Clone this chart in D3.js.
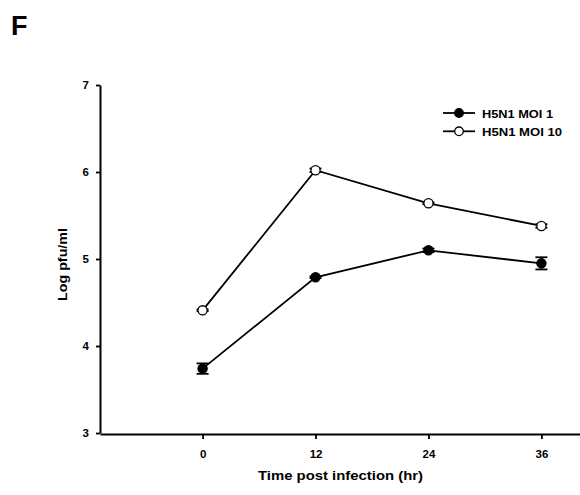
<!DOCTYPE html>
<html>
<head>
<meta charset="utf-8">
<script src="https://cdn.jsdelivr.net/npm/d3@7"></script>
<style>
  html, body { margin: 0; padding: 0; background: #fff; }
  svg { display: block; font-family: "Liberation Sans", Arial, sans-serif; }
</style>
</head>
<body>
<svg id="chart" width="580" height="495"></svg>
<script>
// ---- data ----
const timepoints = [0, 12, 24, 36];
const moi1Values = [3.74, 4.79, 5.10, 4.95];
const moi1Errors = [0.06, 0.01, 0.02, 0.07];
const moi10Values = [4.41, 6.02, 5.64, 5.38];
const moi10Errors = [0.01, 0.02, 0.01, 0.02];
const seriesNames = ["H5N1 MOI 1", "H5N1 MOI 10"];
const yTicks = [3, 4, 5, 6, 7];
const xTicks = [0, 12, 24, 36];

const series = [
  { name: seriesNames[0], values: moi1Values, errors: moi1Errors, fill: "#000", len: 71 },
  { name: seriesNames[1], values: moi10Values, errors: moi10Errors, fill: "#fff", len: 80 }
];

const svg = d3.select("#chart");

// panel label
svg.append("text").attr("x", 11).attr("y", 35)
  .attr("font-size", 27).attr("font-weight", "bold").text("F");

const x = d3.scaleLinear().domain([-10.9, 40.1]).range([100, 580]);
const y = d3.scaleLinear().domain([3, 7]).range([433, 85]);

// axes
const xAxis = svg.append("g").attr("transform", "translate(0,434)")
  .call(d3.axisBottom(x).tickValues(xTicks).tickSize(5).tickSizeOuter(0).tickPadding(11));
const yAxis = svg.append("g").attr("transform", "translate(100,0)")
  .call(d3.axisLeft(y).tickValues(yTicks).tickSize(4).tickSizeOuter(0).tickPadding(7).tickFormat(d3.format("d")));

[xAxis, yAxis].forEach(g => {
  g.select(".domain").attr("stroke", "#000").attr("stroke-width", 2);
  g.selectAll(".tick line").attr("stroke", "#000").attr("stroke-width", 1.8);
  g.selectAll(".tick text").attr("fill", "#000").attr("font-size", 11.5)
    .attr("font-weight", "bold").attr("font-family", "Liberation Sans, Arial, sans-serif");
});

// axis titles
svg.append("text").attr("x", 258).attr("y", 479.5)
  .attr("font-size", 12).attr("font-weight", "bold")
  .attr("textLength", 165).attr("lengthAdjust", "spacingAndGlyphs")
  .text("Time post infection (hr)");
svg.append("text").attr("transform", "translate(67,301) rotate(-90)")
  .attr("font-size", 12.5).attr("font-weight", "bold")
  .attr("textLength", 73).attr("lengthAdjust", "spacingAndGlyphs")
  .text("Log pfu/ml");

const line = d3.line().x(d => x(d.t)).y(d => y(d.v));

series.forEach(s => {
  const pts = timepoints.map((t, i) => ({ t, v: s.values[i], e: s.errors[i] }));
  const g = svg.append("g");
  // error bars
  pts.forEach(p => {
    const cx = x(p.t), y0 = y(p.v - p.e), y1 = y(p.v + p.e);
    g.append("line").attr("x1", cx).attr("x2", cx).attr("y1", y0).attr("y2", y1)
      .attr("stroke", "#000").attr("stroke-width", 1.5);
    [y0, y1].forEach(yy => g.append("line").attr("x1", cx - 6).attr("x2", cx + 6)
      .attr("y1", yy).attr("y2", yy).attr("stroke", "#000").attr("stroke-width", 1.8));
  });
  g.append("path").datum(pts).attr("d", line).attr("fill", "none")
    .attr("stroke", "#000").attr("stroke-width", 1.8);
  g.selectAll("circle").data(pts).join("circle")
    .attr("cx", d => x(d.t)).attr("cy", d => y(d.v)).attr("r", 4.6)
    .attr("fill", s.fill).attr("stroke", "#000").attr("stroke-width", 1.3);
});

// legend
const legend = svg.append("g");
series.forEach((s, i) => {
  const ly = 113 + i * 18.3;
  legend.append("line").attr("x1", 443).attr("x2", 475).attr("y1", ly).attr("y2", ly)
    .attr("stroke", "#000").attr("stroke-width", 1.8);
  legend.append("circle").attr("cx", 459).attr("cy", ly).attr("r", 4.3)
    .attr("fill", s.fill).attr("stroke", "#000").attr("stroke-width", 1.3);
  legend.append("text").attr("x", 482).attr("y", ly + 4.7)
    .attr("font-size", 11).attr("font-weight", "bold")
    .attr("textLength", s.len).attr("lengthAdjust", "spacingAndGlyphs")
    .text(s.name);
});
</script>
</body>
</html>
